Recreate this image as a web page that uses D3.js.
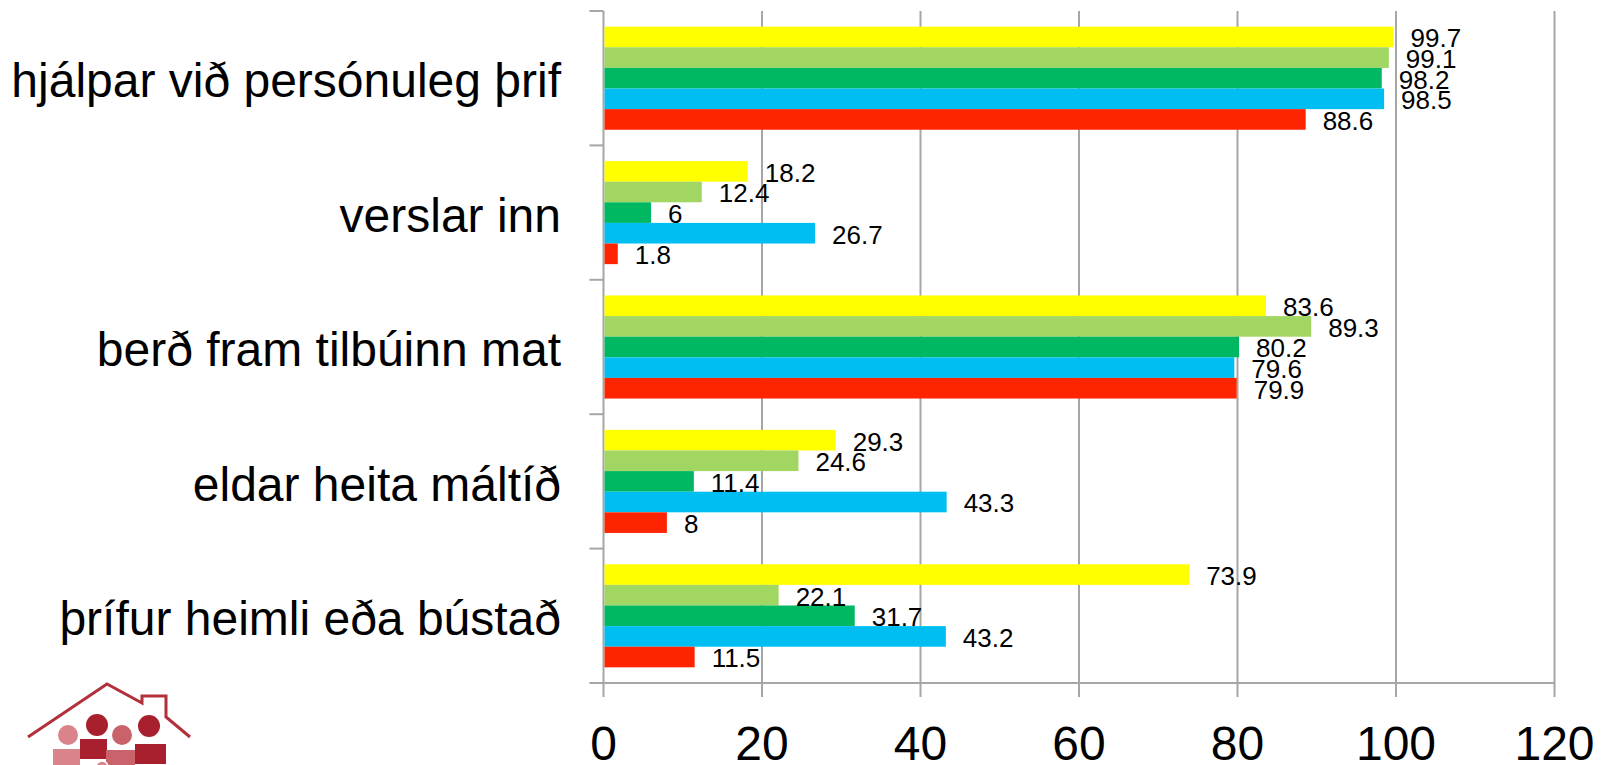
<!DOCTYPE html>
<html lang="is">
<head>
<meta charset="utf-8">
<title>Aðstoð</title>
<style>
body { margin: 0; background: #fff; }
svg { display: block; font-family: "Liberation Sans", Arial, sans-serif; }
.grid line { stroke: #a6a6a6; stroke-width: 2; }
</style>
<script src="https://d3js.org/d3.v7.min.js"></script>
</head>
<body>
<svg id="chart" width="1602" height="765"></svg>
<script>

// flokkar, efst til neðst
var categories = [
  "hjálpar við persónuleg þrif",
  "verslar inn",
  "berð fram tilbúinn mat",
  "eldar heita máltíð",
  "þrífur heimli eða bústað"
];

// raðir, efst til neðst innan hvers flokks
var seriesNames = ["s5", "s4", "s3", "s2", "s1"];
var seriesColors = ["#ffff00", "#a2d662", "#00b862", "#00bef2", "#ff2400"];

var s5 = [99.7, 18.2, 83.6, 29.3, 73.9];
var s4 = [99.1, 12.4, 89.3, 24.6, 22.1];
var s3 = [98.2, 6, 80.2, 11.4, 31.7];
var s2 = [98.5, 26.7, 79.6, 43.3, 43.2];
var s1 = [88.6, 1.8, 79.9, 8, 11.5];

var xTicks = [0, 20, 40, 60, 80, 100, 120];

var seriesValues = [s5, s4, s3, s2, s1];

var svg = d3.select("#chart");

// ath: "top" er frátekið í glugganum
var pLeft = 603.5, pRight = 1554.5, pTop = 11, pBottom = 683;

var x = d3.scaleLinear().domain([0, 120]).range([pLeft, pRight]);

var y0 = d3.scaleBand().domain(categories).range([pTop, pBottom]).padding(0);

var y1 = d3.scaleBand().domain(seriesNames)
    .range([0, y0.bandwidth()])
    .paddingInner(0)
    .paddingOuter(0.76);

// lóðréttar línur
svg.append("g").attr("class", "grid")
  .selectAll("line")
  .data(xTicks)
  .join("line")
    .attr("x1", d => x(d)).attr("x2", d => x(d))
    .attr("y1", pTop).attr("y2", pBottom + 14);

// ás
var ax = svg.append("g").attr("class", "grid");
ax.append("line").attr("x1", pLeft - 14).attr("x2", pRight).attr("y1", pBottom).attr("y2", pBottom);
ax.selectAll(".ct")
  .data(categories)
  .join("line")
    .attr("class", "ct")
    .attr("x1", pLeft - 14).attr("x2", pLeft)
    .attr("y1", d => y0(d)).attr("y2", d => y0(d));

// súlur
var groups = svg.append("g").selectAll("g")
  .data(categories)
  .join("g")
    .attr("transform", d => "translate(0," + y0(d) + ")");

groups.each(function(cat, ci) {
  var g = d3.select(this);
  seriesNames.forEach(function(s, si) {
    var v = seriesValues[si][ci];
    g.append("rect")
      .attr("x", x(0) + 1)
      .attr("y", y1(s))
      .attr("width", x(v) - x(0) - 1)
      .attr("height", y1.bandwidth())
      .attr("fill", seriesColors[si]);
  });
  seriesNames.forEach(function(s, si) {
    var v = seriesValues[si][ci];
    g.append("text")
      .attr("x", x(v) + 17)
      .attr("y", y1(s) + y1.bandwidth() / 2 + 1)
      .attr("dy", "0.36em")
      .attr("font-size", 26)
      .attr("fill", "#000")
      .text(v);
  });
});

// flokkaheiti
svg.append("g").selectAll("text")
  .data(categories)
  .join("text")
    .attr("x", 561)
    .attr("y", d => y0(d) + y0.bandwidth() / 2)
    .attr("dy", "0.4em")
    .attr("text-anchor", "end")
    .attr("font-size", 48)
    .text(d => d);

// x ás merki
svg.append("g").selectAll("text")
  .data(xTicks)
  .join("text")
    .attr("x", d => x(d))
    .attr("y", 760)
    .attr("text-anchor", "middle")
    .attr("font-size", 48)
    .text(d => d);

// merki neðst til vinstri
var logo = svg.append("g");
logo.append("polyline")
  .attr("points", "28,737 107,684 142,703 142,696 166,696 166,717 190,737")
  .attr("fill", "none")
  .attr("stroke", "#b2303b")
  .attr("stroke-width", 3)
  .attr("stroke-linejoin", "miter");
var people = [
  {cx: 68, cy: 735, r: 10, x: 53, w: 27, y: 749, c: "#d9838b"},
  {cx: 97, cy: 725, r: 11, x: 80, w: 27, y: 739, c: "#a8202d"},
  {cx: 122, cy: 735, r: 10, x: 106, w: 29, y: 750, c: "#c9626b"},
  {cx: 149, cy: 726, r: 11, x: 135, w: 31, y: 744, c: "#a8202d"}
];
people.forEach(function(p) {
  logo.append("circle").attr("cx", p.cx).attr("cy", p.cy).attr("r", p.r).attr("fill", p.c);
  logo.append("rect").attr("x", p.x).attr("y", p.y).attr("width", p.w).attr("height", 20).attr("fill", p.c);
});
logo.append("circle").attr("cx", 102).attr("cy", 767).attr("r", 6)
  .attr("fill", "#d9838b").attr("stroke", "#fff").attr("stroke-width", 1.5);

</script>
</body>
</html>
